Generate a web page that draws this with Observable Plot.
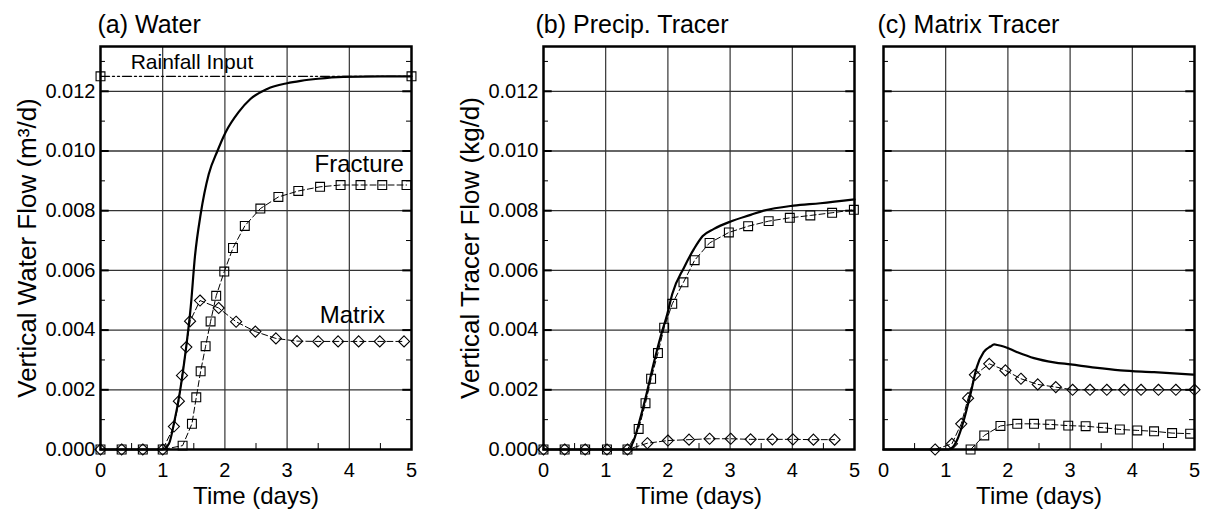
<!DOCTYPE html>
<html>
<head>
<meta charset="utf-8">
<script src="https://cdn.jsdelivr.net/npm/d3@7"></script>
<script src="https://cdn.jsdelivr.net/npm/@observablehq/plot@0.6"></script>
<style>
  body { margin: 0; background: #fff; }
  #chart { position: relative; width: 1207px; height: 511px; overflow: hidden; background: #fff; }
  #chart svg { position: absolute; top: 0; }
</style>
</head>
<body>
<div id="chart"></div>
<script>
// ---------- data ----------
const panelTitles = ["(a) Water", "(b) Precip. Tracer", "(c) Matrix Tracer"];
const yLabels = ["Vertical Water Flow (m³/d)", "Vertical Tracer Flow (kg/d)", ""];
const xLabel = "Time (days)";
const xTicks = [0, 1, 2, 3, 4, 5];
const xGrid = [1, 2, 3, 4];
const xMinor = [0.5, 1.5, 2.5, 3.5, 4.5];
const yTicks = [0, 0.002, 0.004, 0.006, 0.008, 0.010, 0.012];
const yGrid = [0.002, 0.004, 0.006, 0.008, 0.010, 0.012];
const yMinor = [0.001, 0.003, 0.005, 0.007, 0.009, 0.011, 0.013];

// (a) Water
const rainX = [0, 5];
const rainY = [0.0125, 0.0125];
const aTotalX = [0, 1.0, 1.10, 1.18, 1.28, 1.37, 1.45, 1.52, 1.61, 1.74, 1.88, 2.01, 2.22, 2.41, 2.68, 3.0, 3.22, 3.5, 3.9, 4.5, 5.0];
const aTotalY = [0, 0, 0.00019, 0.00086, 0.00197, 0.00331, 0.00476, 0.0065, 0.00788, 0.00922, 0.0100, 0.01062, 0.0113, 0.01174, 0.01208, 0.01227, 0.01235, 0.01242, 0.01248, 0.0125, 0.0125];
const aFracX = [0, 0.34, 0.68, 1.0, 1.32, 1.47, 1.54, 1.61, 1.69, 1.77, 1.86, 1.99, 2.13, 2.32, 2.57, 2.86, 3.18, 3.53, 3.86, 4.18, 4.53, 4.92];
const aFracY = [0, 0, 0, 0, 0.00013, 0.00086, 0.00175, 0.00262, 0.00346, 0.00429, 0.00515, 0.00596, 0.00675, 0.00749, 0.00807, 0.00846, 0.00866, 0.0088, 0.00886, 0.00886, 0.00886, 0.00886];
const aMatX = [0, 0.34, 0.68, 1.0, 1.18, 1.26, 1.31, 1.38, 1.44, 1.60, 1.90, 2.18, 2.49, 2.82, 3.16, 3.50, 3.82, 4.15, 4.49, 4.88];
const aMatY = [0, 0, 0, 0, 0.00077, 0.00162, 0.00248, 0.00343, 0.0043, 0.00499, 0.00474, 0.00428, 0.00395, 0.00372, 0.00363, 0.00362, 0.00362, 0.00362, 0.00362, 0.00362];
const aNoteText = ["Rainfall Input", "Fracture", "Matrix"];
const aNoteX = [1.47, 4.16, 4.05];
const aNoteY = [0.01276, 0.00928, 0.00423];
const aNoteSize = [21, 24, 24];

// (b) Precip. Tracer
const bTotalX = [0, 1.37, 1.45, 1.56, 1.67, 1.77, 1.88, 1.99, 2.07, 2.26, 2.42, 2.56, 2.74, 3.01, 3.33, 3.54, 4.02, 4.45, 5.0];
const bTotalY = [0, 0, 0.0003, 0.00108, 0.00198, 0.00287, 0.00376, 0.00454, 0.00521, 0.0061, 0.00672, 0.00715, 0.00739, 0.00764, 0.00786, 0.0080, 0.00817, 0.00825, 0.00838];
const bFracX = [0, 0.34, 0.67, 1.02, 1.35, 1.53, 1.64, 1.73, 1.84, 1.94, 2.07, 2.25, 2.43, 2.67, 2.98, 3.29, 3.62, 3.96, 4.29, 4.64, 4.99];
const bFracY = [0, 0, 0, 0, 0, 0.00069, 0.00155, 0.00237, 0.00323, 0.00408, 0.00488, 0.0056, 0.00634, 0.00692, 0.00727, 0.00748, 0.00765, 0.00776, 0.00784, 0.00793, 0.00803];
const bMatX = [0, 0.34, 0.67, 1.02, 1.35, 1.67, 2.0, 2.34, 2.67, 3.01, 3.33, 3.68, 4.01, 4.34, 4.68];
const bMatY = [0, 0, 0, 0, 0, 0.00021, 0.0003, 0.00033, 0.00036, 0.00036, 0.00034, 0.00034, 0.00034, 0.00033, 0.00033];

// (c) Matrix Tracer
const cTotalX = [0, 1.0, 1.05, 1.18, 1.29, 1.40, 1.50, 1.61, 1.72, 1.78, 1.83, 1.93, 2.15, 2.42, 2.74, 3.01, 3.4, 3.81, 4.35, 4.98];
const cTotalY = [0, 0, 0, 0.0003, 0.00097, 0.00187, 0.00276, 0.00326, 0.00345, 0.00352, 0.0035, 0.00345, 0.00326, 0.00306, 0.00292, 0.00285, 0.00274, 0.00265, 0.00259, 0.00251];
const cMatX = [0.83, 1.10, 1.25, 1.36, 1.47, 1.70, 1.96, 2.21, 2.48, 2.77, 3.04, 3.32, 3.59, 3.87, 4.14, 4.42, 4.70, 5.0];
const cMatY = [0, 0.00019, 0.00086, 0.00172, 0.0025, 0.00287, 0.00265, 0.00237, 0.00218, 0.00209, 0.002, 0.002, 0.002, 0.002, 0.002, 0.002, 0.002, 0.002];
const cFracX = [1.40, 1.62, 1.88, 2.15, 2.42, 2.68, 2.97, 3.25, 3.53, 3.80, 4.08, 4.35, 4.64, 4.93];
const cFracY = [0, 0.00047, 0.00079, 0.00086, 0.00086, 0.00084, 0.0008, 0.00078, 0.00073, 0.00067, 0.00064, 0.00061, 0.00055, 0.00053];

// ---------- helpers ----------
const FONT = "'Liberation Sans', Arial, Helvetica, sans-serif";
const rows = (xs, ys) => xs.map((x, i) => ({x, y: ys[i]}));

function markerSeries(xs, ys, symbol) {
  const d = rows(xs, ys);
  return [
    Plot.line(d, {x: "x", y: "y", stroke: "#000", strokeWidth: 1, strokeDasharray: "6,3"}),
    Plot.dot(d, {x: "x", y: "y", symbol, r: 5, stroke: "#000", fill: "none", strokeWidth: 1.1})
  ];
}

function panel({left, width, marginLeft, marginRight, title, yLabel, showY, titleDx, series}) {
  const marks = [
    Plot.ruleX(xGrid, {stroke: "#222", strokeWidth: 1.1}),
    Plot.ruleY(yGrid, {stroke: "#333", strokeWidth: 1.3}),
    Plot.ruleY(yMinor, {x1: 0, x2: 0.08, stroke: "#000", strokeWidth: 1}),
    Plot.ruleY(yMinor, {x1: 4.92, x2: 5, stroke: "#000", strokeWidth: 1}),
    Plot.ruleY(yGrid, {x1: 0, x2: 0.14, stroke: "#000", strokeWidth: 2}),
    Plot.ruleY(yGrid, {x1: 4.86, x2: 5, stroke: "#000", strokeWidth: 2}),
    Plot.ruleX(xMinor, {y1: 0, y2: 0.0002, stroke: "#000", strokeWidth: 1}),
    ...series,
    Plot.frame({stroke: "#000", strokeWidth: 2.5}),
    Plot.text([title], {text: d => d, frameAnchor: "top-left", textAnchor: "start", lineAnchor: "bottom", dx: titleDx, dy: -14, fontSize: 25, fill: "#000"}),
    Plot.text([xLabel], {text: d => d, frameAnchor: "bottom", textAnchor: "middle", lineAnchor: "bottom", dy: 54, fontSize: 24, fill: "#000"})
  ];
  if (yLabel) {
    marks.push(Plot.text([yLabel], {text: d => d, frameAnchor: "left", textAnchor: "middle", lineAnchor: "middle", rotate: -90, dx: -73, fontSize: 26, fill: "#000"}));
  }
  const svg = Plot.plot({
    width, height: 511,
    marginTop: 46, marginBottom: 62, marginLeft, marginRight,
    style: {fontFamily: FONT, fontSize: "20px", background: "transparent", overflow: "visible", color: "#000"},
    x: {domain: [0, 5], ticks: xTicks, tickFormat: d => String(d), tickSize: 0, tickPadding: 13, label: null},
    y: showY
      ? {domain: [0, 0.0135], ticks: yTicks, tickFormat: d3.format(".3f"), tickSize: 0, tickPadding: 5, label: null}
      : {domain: [0, 0.0135], axis: null},
    marks
  });
  svg.style.left = left + "px";
  return svg;
}

const chart = document.getElementById("chart");

// (a)
const aNotes = aNoteText.map((t, i) => ({t, x: aNoteX[i], y: aNoteY[i], s: aNoteSize[i]}));
chart.appendChild(panel({
  left: 0, width: 420, marginLeft: 100, marginRight: 9,
  title: panelTitles[0], yLabel: yLabels[0], showY: true, titleDx: -3,
  series: [
    Plot.line(rows(rainX, rainY), {x: "x", y: "y", stroke: "#000", strokeWidth: 1.4, strokeDasharray: "9,3,2,3,2,3"}),
    Plot.dot(rows(rainX, rainY), {x: "x", y: "y", symbol: "square", r: 5, stroke: "#000", fill: "none", strokeWidth: 1.1}),
    Plot.line(rows(aTotalX, aTotalY), {x: "x", y: "y", stroke: "#000", strokeWidth: 2.2, curve: "monotone-x"}),
    ...markerSeries(aFracX, aFracY, "square"),
    ...markerSeries(aMatX, aMatY, "diamond2"),
    Plot.text(aNotes, {x: "x", y: "y", text: "t", fontSize: d => d.s, textAnchor: "middle", lineAnchor: "bottom", fill: "#000"})
  ]
}));

// (b)
chart.appendChild(panel({
  left: 420, width: 445, marginLeft: 123, marginRight: 11,
  title: panelTitles[1], yLabel: yLabels[1], showY: true, titleDx: -8,
  series: [
    Plot.line(rows(bTotalX, bTotalY), {x: "x", y: "y", stroke: "#000", strokeWidth: 2.2, curve: "monotone-x"}),
    ...markerSeries(bFracX, bFracY, "square"),
    ...markerSeries(bMatX, bMatY, "diamond2")
  ]
}));

// (c)
chart.appendChild(panel({
  left: 860, width: 347, marginLeft: 23, marginRight: 13,
  title: panelTitles[2], yLabel: yLabels[2], showY: false, titleDx: -6,
  series: [
    Plot.line(rows(cTotalX, cTotalY), {x: "x", y: "y", stroke: "#000", strokeWidth: 2.2, curve: "monotone-x"}),
    ...markerSeries(cFracX, cFracY, "square"),
    ...markerSeries(cMatX, cMatY, "diamond2")
  ]
}));
</script>
</body>
</html>
